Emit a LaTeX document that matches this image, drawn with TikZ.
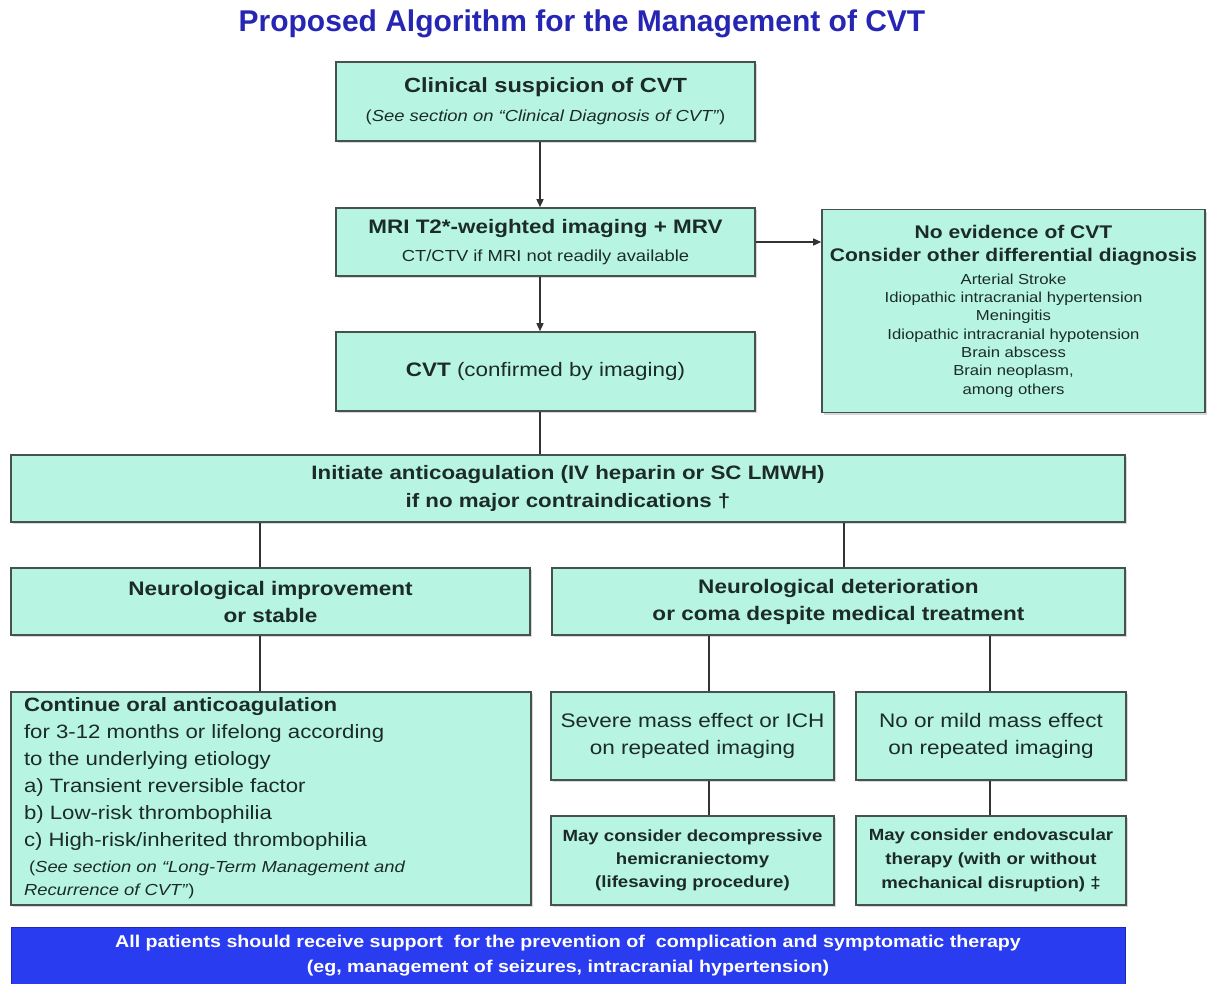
\documentclass[tikz,border=0pt]{standalone}
\usepackage{fontspec}
\setmainfont[FakeStretch=1.15]{Liberation Sans}
\newfontfamily\normalwidth{Liberation Sans}
\usetikzlibrary{shadows,arrows.meta}
\definecolor{boxfill}{HTML}{B7F5E2}
\definecolor{boxline}{HTML}{45524E}
\definecolor{txt}{HTML}{1C2B27}
\definecolor{titleblue}{HTML}{2626B4}
\definecolor{barblue}{HTML}{2A3CF0}
\newcommand\setfs[2]{\fontsize{#1}{#2}\selectfont}
\begin{document}
\begin{tikzpicture}[x=1pt,y=-1pt,
  box/.style={draw=boxline, line width=1.6pt, fill=boxfill, text=txt, align=center, inner sep=0pt,
    drop shadow={shadow xshift=2pt, shadow yshift=-2pt, opacity=0.3}},
  ln/.style={draw=black!80, line width=1.4pt},
  arr/.style={ln, -{Triangle[length=8pt,width=7pt]}}]
\fill[white] (0,0) rectangle (1207,983);
\useasboundingbox (0,0) rectangle (1207,983);

\node[text=titleblue, font=\normalwidth\setfs{30}{34}\bfseries] (title) at (582,24) {Proposed Algorithm for the Management of CVT};

\node[box, minimum width=419pt, minimum height=79pt, font=\setfs{14}{29}] (b1) at (545.5,101.5)
  {{\setfs{20.5}{25}\bfseries Clinical suspicion of CVT}\\
   {\setfs{16}{19}(\textit{See section on ``Clinical Diagnosis of CVT''})}};

\node[box, minimum width=419pt, minimum height=68pt, font=\setfs{14.5}{28}] (b2) at (545.5,242)
  {{\setfs{19.5}{24}\bfseries MRI T2*-weighted imaging + MRV}\\
   {\setfs{16}{19}CT/CTV if MRI not readily available}};

\node[box, minimum width=419pt, minimum height=79pt, font=\setfs{19.5}{24}] (b3) at (545.5,371.5)
  {\textbf{CVT} (confirmed by imaging)};

\node[box, minimum width=383pt, minimum height=203pt, font=\setfs{14.5}{18.3}] (rb) at (1013.5,311)
  {\textbf{\setfs{18.3}{18.3}No evidence of CVT}\\[5.5pt]
   \textbf{\setfs{18.3}{18.3}Consider other differential diagnosis}\\[4pt]
   Arterial Stroke\\Idiopathic intracranial hypertension\\Meningitis\\
   Idiopathic intracranial hypotension\\Brain abscess\\Brain neoplasm,\\among others};

\node[box, minimum width=1114pt, minimum height=67pt, font=\setfs{19.4}{28}\bfseries] (init) at (568,488.5)
  {Initiate anticoagulation (IV heparin or SC LMWH)\\if no major contraindications †};

\node[box, minimum width=519pt, minimum height=67pt, font=\setfs{19.6}{27}\bfseries] (ni) at (270.5,601.5)
  {Neurological improvement\\or stable};

\node[box, minimum width=573pt, minimum height=67pt, font=\setfs{19.6}{27}\bfseries] (nd) at (838.5,601.5)
  {Neurological deterioration\\or coma despite medical treatment};

\node[box, minimum width=520pt, minimum height=213pt, align=flush left, text width=494pt, inner xsep=13pt, font=\setfs{19.3}{27}] (co) at (271,798.5)
  {\textbf{Continue oral anticoagulation}\\
   for 3-12 months or lifelong according\\
   to the underlying etiology\\
   a) Transient reversible factor\\
   b) Low-risk thrombophilia\\
   c) High-risk/inherited thrombophilia\\[-1pt]
   {\setfs{16}{23}\ (\textit{See section on ``Long-Term Management and}}\\[-4pt]
   {\setfs{16}{23}\textit{Recurrence of CVT''})}};

\node[box, minimum width=283pt, minimum height=88pt, font=\setfs{19.6}{27}] (sv) at (692.5,736)
  {Severe mass effect or ICH\\on repeated imaging};

\node[box, minimum width=270pt, minimum height=88pt, font=\setfs{19.6}{27}] (nm) at (991,736)
  {No or mild mass effect\\on repeated imaging};

\node[box, minimum width=283pt, minimum height=89pt, font=\setfs{16.2}{23}\bfseries] (dc) at (692.5,860.5)
  {May consider decompressive\\hemicraniectomy\\(lifesaving procedure)};

\node[box, minimum width=270pt, minimum height=89pt, font=\setfs{16.2}{24}\bfseries] (ev) at (991,860.5)
  {May consider endovascular\\therapy (with or without\\mechanical disruption) ‡};

\node[draw=barblue!70!black, line width=0.8pt, fill=barblue, text=white, align=center, inner sep=0pt,
  minimum width=1114pt, minimum height=58pt, font=\setfs{17.1}{25}\bfseries] (bar) at (568,956)
  {All patients should receive support\ \ for the prevention of\ \ complication and symptomatic therapy\\
   (eg, management of seizures, intracranial hypertension)};

\coordinate (sp) at (540,0);
\coordinate (l1) at (260,0);
\coordinate (r1) at (844,0);
\coordinate (l2) at (709,0);
\coordinate (r2) at (990,0);

\draw[arr] (b1.south -| sp) -- (b2.north -| sp);
\draw[arr] (b2.south -| sp) -- (b3.north -| sp);
\draw[arr] (b2.east) -- (rb.west |- b2.east);
\draw[ln] (b3.south -| sp) -- (init.north -| sp);
\draw[ln] (init.south -| l1) -- (ni.north -| l1);
\draw[ln] (init.south -| r1) -- (nd.north -| r1);
\draw[ln] (ni.south -| l1) -- (co.north -| l1);
\draw[ln] (nd.south -| l2) -- (sv.north -| l2);
\draw[ln] (sv.south -| l2) -- (dc.north -| l2);
\draw[ln] (nd.south -| r2) -- (nm.north -| r2);
\draw[ln] (nm.south -| r2) -- (ev.north -| r2);
\end{tikzpicture}
\end{document}
